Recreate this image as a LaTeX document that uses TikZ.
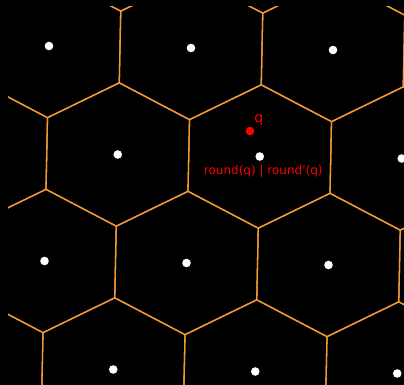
\documentclass[tikz,border=0pt]{standalone}
\usepackage{fontspec}
\setmainfont{DejaVu Sans}
\usetikzlibrary{positioning}
\definecolor{CellOrange}{RGB}{242,152,52}
\definecolor{QRed}{RGB}{255,0,0}

\begin{document}
\begin{tikzpicture}[x=1pt,y=1pt,
  cell/.style={CellOrange,line width=1.3pt,line join=round},
  site/.style={circle,fill=white,inner sep=0pt,minimum size=8.6pt},
  qdot/.style={circle,fill=QRed,inner sep=0pt,minimum size=8.6pt}]
  \fill[black] (0,0) rectangle (404,385);
  \useasboundingbox (0,0) rectangle (404,385);
  \clip (0,0) rectangle (404,385);
  % lattice frame: x = first lattice vector, y = second one
  \begin{scope}
    \clip (8,-5) rectangle (410,378.3);
    \begin{scope}[shift={(49,339)},x={(142pt,-2pt)},y={(68.75pt,-108.5pt)}]
      \foreach \i in {-3,...,3}
        \foreach \j in {-1,...,4}
          \draw[cell,shift={(\i,\j)}] (1/3,1/3) -- (-1/3,2/3) -- (-2/3,1/3)
            -- (-1/3,-1/3) -- (1/3,-2/3) -- (2/3,-1/3) -- cycle;
    \end{scope}
  \end{scope}
  \begin{scope}[shift={(49,339)},x={(142pt,-2pt)},y={(68.75pt,-108.5pt)}]
    \foreach \i in {-3,...,3}
      \foreach \j in {-1,...,4}
        \node[site] (p\i-\j) at (\i,\j) {};
  \end{scope}
  \node[qdot] (q) at (250,254) {};
  \node[above right=2pt and 1pt of q,inner sep=0pt,text=QRed,
    font=\fontsize{14}{16}\selectfont] (qname) {q};
  \node[below=4pt of p1-1,xshift=3.5pt,inner sep=0pt,text=QRed,
    font=\fontsize{12}{14}\selectfont] (rounds) {round(q) | round\textquotesingle(q)};
\end{tikzpicture}
\end{document}
